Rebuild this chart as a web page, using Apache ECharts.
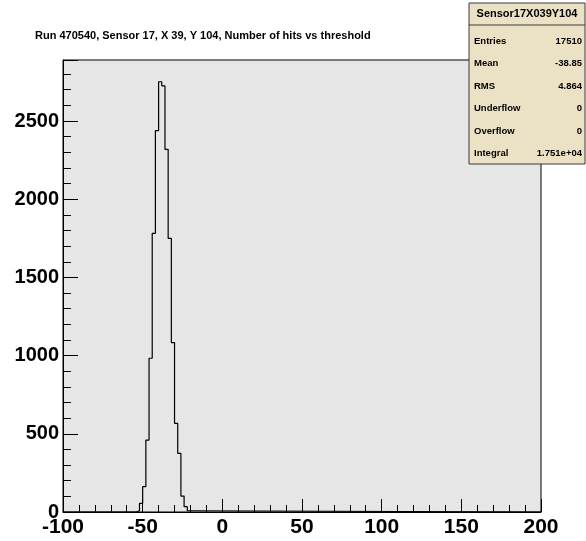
<!DOCTYPE html>
<html><head><meta charset="utf-8">
<script src="https://cdn.jsdelivr.net/npm/echarts@6/dist/echarts.min.js"></script>
<style>html,body{margin:0;padding:0;background:#fff}#c{width:586px;height:541px}</style>
</head><body><div id="c"></div>
<script>
const titleText = 'Run 470540, Sensor 17, X 39, Y 104, Number of hits vs threshold';
const binLow = [-54,-52,-50,-48,-46,-44,-42,-40,-38,-36,-34,-32,-30,-28,-26,-24,-22];
const binWidth = 2;
const counts = [8,55,162,460,983,1782,2438,2751,2724,2319,1750,1083,567,375,102,34,8];
const xRange = [-100, 200];
const yRange = [0, 2890];
const yMajorTicks = [0,500,1000,1500,2000,2500];
const statsName = 'Sensor17X039Y104';
const statsLabels = ['Entries','Mean','RMS','Underflow','Overflow','Integral'];
const statsValues = ['17510','-38.85','4.864','0','0','1.751e+04'];

const FONT = '"Liberation Sans", Arial, Helvetica, sans-serif';
const pts = [[xRange[0], 0]];
binLow.forEach((e, i) => pts.push([e, counts[i]]));
pts.push([binLow[binLow.length - 1] + binWidth, 0]);
pts.push([xRange[1], 0]);

const chart = echarts.init(document.getElementById('c'), null, {renderer: 'canvas'});
const black = {color: '#000', width: 1};

const statsGraphics = [];
const boxL = 469, boxR = 585, boxT = 3, boxB = 164;
statsGraphics.push({type: 'rect', z: 100, shape: {x: boxL, y: boxT, width: boxR - boxL, height: boxB - boxT},
  style: {fill: '#ebe2c5', stroke: '#3a3a3a', lineWidth: 1}});
statsGraphics.push({type: 'line', z: 101, shape: {x1: boxL, y1: 25, x2: boxR, y2: 25}, style: {stroke: '#3a3a3a', lineWidth: 1}});
statsGraphics.push({type: 'text', z: 102, x: (boxL + boxR) / 2, y: 14,
  style: {text: statsName, font: 'bold 11px ' + FONT, fill: '#000', textAlign: 'center', textVerticalAlign: 'middle'}});
const rowY = [41, 63.5, 86, 108.5, 131, 153];
statsLabels.forEach((lab, i) => {
  statsGraphics.push({type: 'text', z: 102, x: 474, y: rowY[i],
    style: {text: lab, font: 'bold 9.5px ' + FONT, fill: '#000', textAlign: 'left', textVerticalAlign: 'middle'}});
  statsGraphics.push({type: 'text', z: 102, x: 582, y: rowY[i],
    style: {text: statsValues[i], font: 'bold 9.5px ' + FONT, fill: '#000', textAlign: 'right', textVerticalAlign: 'middle'}});
});

chart.setOption({
  animation: false,
  backgroundColor: '#fff',
  grid: {left: 63, right: 45, top: 60, bottom: 29, show: true, backgroundColor: '#e6e6e6',
    borderColor: '#000', borderWidth: 1, containLabel: false, outerBoundsMode: 'none'},
  graphic: [
    {type: 'text', x: 35, y: 36, z: 50,
      style: {text: titleText, font: 'bold 11px ' + FONT, fill: '#000', textAlign: 'left', textVerticalAlign: 'middle'}}
  ].concat(statsGraphics),
  xAxis: {
    type: 'value', min: xRange[0], max: xRange[1], interval: 50,
    axisLine: {show: true, onZero: false, lineStyle: black},
    axisTick: {show: true, inside: true, length: 13, lineStyle: black},
    minorTick: {show: true, splitNumber: 5, length: 7, lineStyle: black},
    splitLine: {show: false}, minorSplitLine: {show: false},
    axisLabel: {color: '#000', fontWeight: 'bold', fontSize: 21, fontFamily: FONT, margin: 5}
  },
  yAxis: [
    {
      type: 'value', min: yRange[0], max: yRange[1], interval: 100, position: 'left',
      axisLine: {show: true, onZero: false, lineStyle: black},
      axisTick: {show: true, inside: true, length: 8, lineStyle: black},
      splitLine: {show: false},
      axisLabel: {color: '#000', fontWeight: 'bold', fontSize: 20, fontFamily: FONT, margin: 4,
        showMaxLabel: false,
        formatter: v => (yMajorTicks.indexOf(v) >= 0 ? String(v) : '')}
    },
    {
      type: 'value', min: yRange[0], max: yRange[1], interval: 500, position: 'left', offset: 0,
      axisLine: {show: false, onZero: false},
      axisTick: {show: true, inside: true, length: 15, lineStyle: black},
      splitLine: {show: false},
      axisLabel: {show: false}
    }
  ],
  series: [{
    type: 'line', step: 'end', data: pts, showSymbol: false, symbol: 'none',
    lineStyle: {color: '#000', width: 1.2}, z: 5, silent: true
  }]
});
</script></body></html>
